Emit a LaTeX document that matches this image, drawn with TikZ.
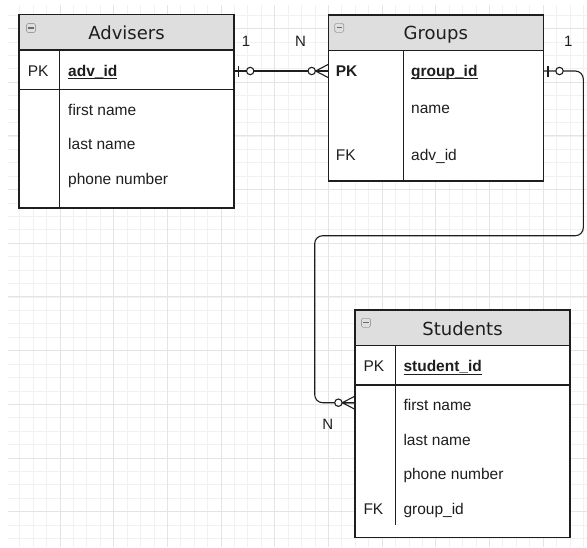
\documentclass[tikz,border=0pt]{standalone}
\usepackage{fontspec}
\setmainfont{Liberation Sans}
\newfontfamily\hdrfont{DejaVu Sans}
\usetikzlibrary{calc}
\definecolor{hdrfill}{HTML}{DEDEDE}
\definecolor{gridmaj}{HTML}{E4E4E4}
\definecolor{gridmin}{HTML}{F1F1F1}
\definecolor{ink}{HTML}{1E1E1E}
\newcommand\ulx[1]{\setbox0\hbox{#1}\rlap{\rule[-3.4pt]{\wd0}{1.1pt}}\box0}
\tikzset{
  tblline/.style={draw=ink,line width=1.2pt},
  hdrbox/.style={tblline,fill=hdrfill},
  bodybox/.style={tblline,fill=white},
  hdrtext/.style={inner sep=0pt,anchor=base,font=\hdrfont\fontsize{18}{20}\selectfont,text=ink},
  celltext/.style={inner sep=0pt,anchor=base west,font=\fontsize{15.5}{18}\selectfont,text=ink},
  cardtext/.style={inner sep=0pt,anchor=base,font=\fontsize{15}{18}\selectfont,text=ink},
  rowbox/.style={inner sep=0pt,minimum width=215pt,minimum height=36pt},
  conn/.style={draw=ink,line width=1.1pt},
  pics/oneopt/.style={code={
    \draw[conn] (4.5,-5.5) -- (4.5,5.5);
    \draw[conn,fill=white] (16,0) circle (3.7pt);}},
  pics/manyopt/.style={code={
    \draw[conn] (-12.5,0) -- (0,-6.5) (-12.5,0) -- (0,0) (-12.5,0) -- (0,6.5);
    \draw[conn,fill=white] (-16.4,0) circle (3.7pt);}},
  pics/minusicon/.style={code={
    \draw[draw=gray!75,fill=gray!25,rounded corners=1.5pt,line width=0.6pt] (-4.5,-4.5) rectangle (4.5,4.5);
    \draw[draw=gray!85!black,line width=1.2pt] (-2.6,0) -- (2.6,0);}}
}
\begin{document}
\begin{tikzpicture}[x=1pt,y=-1pt]
\useasboundingbox (0,0) rectangle (587,547);
% ---------- background grid ----------
\begin{scope}
  \clip (8,5) rectangle (587,547);
  \foreach \i in {-4,...,40} {
    \draw[gridmin,line width=0.8pt] ({60+13.42*\i},0) -- ({60+13.42*\i},547);
  }
  \foreach \k in {-18,...,23} {
    \draw[gridmin,line width=0.8pt] (0,{243.3+13.42*\k}) -- (587,{243.3+13.42*\k});
  }
  \foreach \i in {-1,...,10} {
    \draw[gridmaj,line width=1pt] ({60+53.68*\i},0) -- ({60+53.68*\i},547);
  }
  \foreach \k in {-5,...,6} {
    \draw[gridmaj,line width=1pt] (0,{243.3+53.68*\k}) -- (587,{243.3+53.68*\k});
  }
\end{scope}

% ---------- Advisers ----------
\path[bodybox] (19,50) rectangle (234,208);
\path[hdrbox] (19,14.5) rectangle (234,50);
\draw[tblline] (19,89.7) -- (234,89.7);
\draw[tblline] (59.7,50) -- (59.7,208);
\pic at (31,28) {minusicon};
\node[hdrtext] (advh) at (126.5,39.3) {Advisers};
\node[rowbox] (advpk) at (126.5,71) {};
\node[celltext] (advpkl) at (27.7,76) {PK};
\node[celltext] (advid) at (68,76) {\bfseries\ulx{adv\_id}};
\node[celltext] (advfn) at (68,115) {first name};
\node[celltext] (advln) at (68,149.5) {last name};
\node[celltext] (advph) at (68,184) {phone number};

% ---------- Groups ----------
\path[bodybox] (328.3,50.7) rectangle (543.3,181);
\path[hdrbox] (328.3,15) rectangle (543.3,50.7);
\draw[tblline] (403.7,50.7) -- (403.7,181);
\pic at (339.2,27.8) {minusicon};
\node[hdrtext] (grph) at (435.8,39.3) {Groups};
\node[rowbox] (grppk) at (435.8,71) {};
\node[celltext] (grppkl) at (335.7,76) {\bfseries PK};
\node[celltext] (grpid) at (411,76) {\bfseries\ulx{group\_id}};
\node[celltext] (grpnm) at (411,113.5) {name};
\node[celltext] (grpfkl) at (335.7,160) {FK};
\node[celltext] (grpfk) at (411,160) {adv\_id};

% ---------- Students ----------
\path[bodybox] (355,345.7) rectangle (570,537.7);
\path[hdrbox] (355,310) rectangle (570,345.7);
\draw[tblline] (355,385) -- (570,385);
\draw[tblline] (395.7,345.7) -- (395.7,525);
\pic at (366,322.8) {minusicon};
\node[hdrtext] (stuh) at (462.5,335) {Students};
\node[rowbox] (stufn) at (462.5,402.7) {};
\node[celltext] (stupkl) at (363.3,371.7) {PK};
\node[celltext] (stuid) at (403.3,371.7) {\bfseries\ulx{student\_id}};
\node[celltext] (stufnt) at (403.3,410) {first name};
\node[celltext] (stuln) at (403.3,445) {last name};
\node[celltext] (stuph) at (403.3,479.5) {phone number};
\node[celltext] (stufkl) at (363.3,514.3) {FK};
\node[celltext] (stufk) at (403.3,514.3) {group\_id};

% ---------- connectors ----------
\coordinate (bendR) at (583.3,235.7);
\coordinate (bendL) at (314.7,235.7);
\draw[conn] (advpk.east) -- (grppk.west);
\draw[conn,rounded corners=8pt] (grppk.east) -| (bendR) -- (bendL) |- (stufn.west);
\pic at (advpk.east) {oneopt};
\pic at (grppk.west) {manyopt};
\pic at (grppk.east) {oneopt};
\pic at (stufn.west) {manyopt};

% ---------- cardinality labels ----------
\node[cardtext] (c1) at (246,46.7) {1};
\node[cardtext] (c2) at (300.5,46.7) {N};
\node[cardtext] (c3) at (568.3,46.7) {1};
\node[cardtext] (c4) at (327.7,429) {N};
\end{tikzpicture}
\end{document}
